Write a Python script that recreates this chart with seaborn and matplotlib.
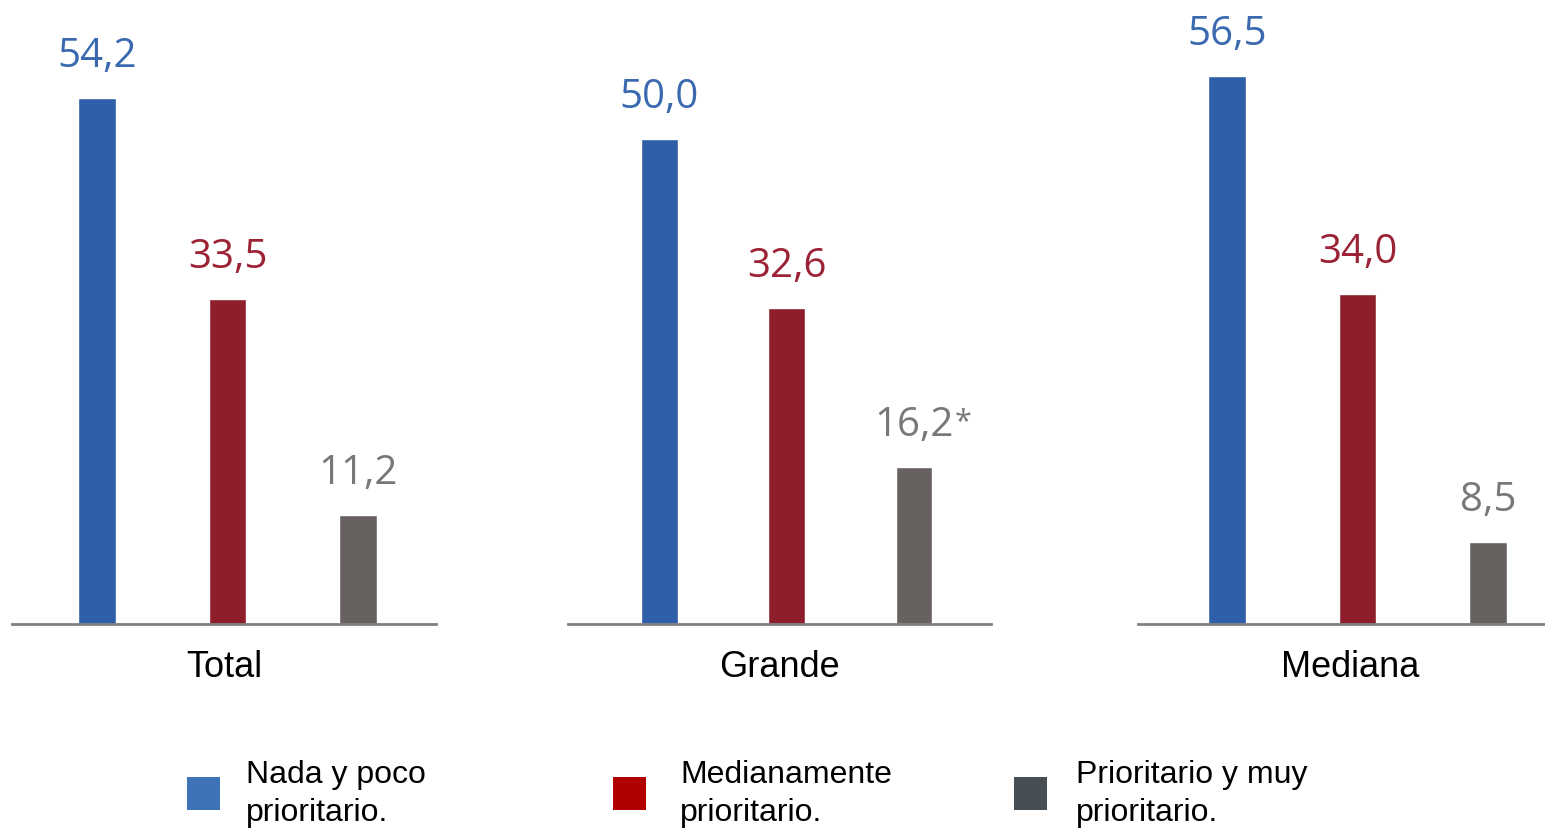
import matplotlib
matplotlib.use("Agg")
import matplotlib.pyplot as plt
from matplotlib.patches import Patch
from matplotlib.transforms import offset_copy
import pandas as pd
import seaborn as sns

# Company size groups and priority levels
grupos = ["Total", "Grande", "Mediana"]
niveles = ["Nada y poco\nprioritario.", "Medianamente\nprioritario.", "Prioritario y muy\nprioritario."]
valores_total = [54.2, 33.5, 11.2]
valores_grande = [50.0, 32.6, 16.2]
valores_mediana = [56.5, 34.0, 8.5]
notas_grande = ["", "", "*"]

colores_barra = ["#2F5FA8", "#8E1E2C", "#67625F"]
colores_valor = ["#3A69B0", "#9B2335", "#7A7877"]
colores_leyenda = ["#3E73B8", "#B00000", "#474F55"]

sns.set_style("white")
plt.rcParams["font.family"] = ["Liberation Sans", "DejaVu Sans"]
plt.rcParams["text.color"] = "black"

W, H = 1545, 829
fig = plt.figure(figsize=(W / 100, H / 100), dpi=100)
fig.patch.set_facecolor("white")

# panel geometry in pixels: (left, right, xlim)
paneles = [
    (12, 436, (-0.651, 2.598)),
    (568, 991, (-0.714, 2.604)),
    (1138, 1562, (-0.682, 2.567)),
]
base_px = 204
alto_px = 582
ymax = 60

series = [valores_total, valores_grande, valores_mediana]
notas = [["", "", ""], notas_grande, ["", "", ""]]

for grupo, vals, nts, (x0, x1, xlim) in zip(grupos, series, notas, paneles):
    ax = fig.add_axes([x0 / W, base_px / H, (x1 - x0) / W, alto_px / H])
    df = pd.DataFrame({"nivel": niveles, "valor": vals})
    sns.barplot(data=df, x="nivel", y="valor", hue="nivel",
                palette=dict(zip(niveles, colores_barra)), legend=False,
                width=0.29, saturation=1, ax=ax)
    ax.set_xlim(*xlim)
    ax.set_ylim(0, ymax)
    for s in ["top", "right", "left"]:
        ax.spines[s].set_visible(False)
    ax.spines["bottom"].set_color("#808080")
    ax.spines["bottom"].set_linewidth(2)
    ax.set_xticks([])
    ax.set_yticks([])
    ax.set_xlabel("")
    ax.set_ylabel("")
    ax.patch.set_alpha(0)

    for i, (v, n, c) in enumerate(zip(vals, nts, colores_valor)):
        etiqueta = f"{v:.1f}".replace(".", ",")
        tr = offset_copy(ax.transData, fig=fig, x=0, y=32, units="dots")
        t = ax.text(i, v, etiqueta, transform=tr, ha="center", va="baseline",
                    fontsize=29, color=c, family=["Open Sans", "DejaVu Sans"],
                    clip_on=False)
        if n:
            ax.annotate(n, xy=(1, 1), xycoords=t, xytext=(1, -2),
                        textcoords="offset pixels", ha="left", va="top",
                        fontsize=22, color=c, family=["Open Sans", "DejaVu Sans"])

    tr_lbl = offset_copy(ax.transAxes, fig=fig, x=0, y=-43, units="dots")
    ax.text(0.5, 0, grupo, transform=tr_lbl, ha="center", va="center",
            fontsize=26, color="black")

# legend entries, one per priority level
pos_leyenda = [187, 613, 1014]
sep_texto = [0.82, 1.06, 0.9]
for nivel, col, px, sep in zip(niveles, colores_leyenda, pos_leyenda, sep_texto):
    leg = fig.legend(handles=[Patch(facecolor=col, edgecolor="none")], labels=[nivel],
                     loc="upper left", bbox_to_anchor=(px / W, (H - 760) / H),
                     frameon=False, fontsize=23, handlelength=1.04, handleheight=1.2,
                     handletextpad=sep, borderpad=0, borderaxespad=0,
                     labelspacing=0, labelcolor="black")
    for t in leg.get_texts():
        t.set_linespacing(1.35)

fig.savefig("out.png", dpi=100, facecolor="white")
